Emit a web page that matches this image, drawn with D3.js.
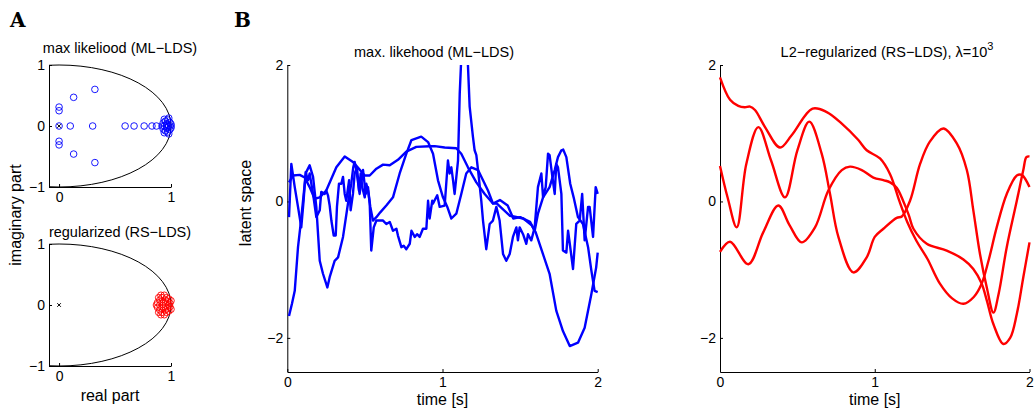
<!DOCTYPE html>
<html>
<head>
<meta charset="utf-8">
<script src="https://cdn.jsdelivr.net/npm/d3@7"></script>
<style>
  body { margin: 0; background: #fff; }
  text { font-family: "Liberation Sans", Arial, sans-serif; fill: #000; }
  .panel_letter { font-family: "DejaVu Serif", "Liberation Serif", serif; font-weight: bold; font-size: 20px; }
</style>
</head>
<body>
<div id="chart"></div>
<script>
// eigenvalues, max likelihood (real / imaginary parts)
const mlEigRe = [0, 0, 0, 0, 0, 0.10, 0.30, 0.13, 0.13, 0.32, 0.32, 0.59, 0.67, 0.76, 0.83, 0.87,
  0.92, 0.94, 0.96, 0.98, 1.0, 0.93, 0.93, 0.95, 0.95, 0.97, 0.97, 0.99, 0.99, 0.96, 0.96, 0.98, 0.98, 0.94, 0.94, 1.0, 1.0];
const mlEigIm = [0, 0.31, 0.25, -0.25, -0.31, 0, 0, 0.47, -0.46, 0.60, -0.60, 0, 0, 0, 0, 0,
  0, 0, 0, 0, 0, 0.05, -0.05, 0.08, -0.08, 0.10, -0.10, 0.06, -0.06, 0.03, -0.03, 0.13, -0.13, 0.11, -0.11, 0.03, -0.03];

// eigenvalues, regularized
const rsEigRe = [0.87, 0.88, 0.88, 0.90, 0.90, 0.90, 0.92, 0.92, 0.93, 0.93, 0.94, 0.94, 0.95, 0.95, 0.95,
  0.96, 0.96, 0.97, 0.97, 0.98, 0.98, 0.98, 0.99, 0.99, 1.0, 1.0, 0.91, 0.91, 0.89, 0.89];
const rsEigIm = [0, 0.04, -0.04, 0.08, -0.08, 0, 0.12, -0.12, 0.04, -0.04, 0.16, -0.16, 0.08, -0.08, 0,
  0.12, -0.12, 0.05, -0.05, 0.10, -0.10, 0, 0.03, -0.03, 0.07, -0.07, 0.16, -0.16, 0.12, -0.12];

const eigTicksX = [0, 1];
const eigTicksY = [-1, 0, 1];
const timeTicks = [0, 1, 2];
const latentTicks = [-2, 0, 2];

// latent trajectories, ML-LDS  [time s, value]
const mlTrace1 = [[0.011, 0.28], [0.037, 0.38], [0.08, 0.39], [0.112, 0.35], [0.144, 0.21], [0.176, 0.04], [0.209, 0.06],
  [0.251, 0.16], [0.316, 0.50], [0.37, 0.66], [0.423, 0.58], [0.499, 0.38], [0.531, 0.38], [0.574, 0.48], [0.617, 0.54],
  [0.66, 0.53], [0.713, 0.61], [0.767, 0.73], [0.831, 0.80], [0.917, 0.81], [0.95, 0.81], [1.014, 0.79], [1.089, 0.78],
  [1.121, 0.70], [1.164, 0.50], [1.218, 0.28], [1.272, 0.11], [1.325, -0.03], [1.349, -0.03], [1.435, -0.21],
  [1.521, -0.25], [1.575, -0.35], [1.60, -0.45], [1.647, -0.77], [1.69, -1.06], [1.733, -1.60], [1.776, -1.90],
  [1.82, -2.12], [1.873, -2.07], [1.916, -1.85], [1.959, -1.36], [1.99, -0.97], [2.0, -0.75]];

const mlTrace2 = [[0.011, -1.68], [0.03, -1.50], [0.048, -1.31], [0.069, -0.67], [0.09, -0.25], [0.112, 0.25], [0.122, 0.43],
  [0.144, 0.53], [0.166, 0.36], [0.187, -0.08], [0.209, -0.87], [0.23, -1.06], [0.258, -1.26], [0.273, -1.11],
  [0.305, -0.87], [0.327, -0.82], [0.359, -0.52], [0.391, -0.03], [0.412, 0.26], [0.425, 0.50], [0.434, 0.58],
  [0.445, 0.46], [0.466, 0.11], [0.488, 0.46], [0.505, 0.11], [0.52, 0.21], [0.531, -0.03], [0.541, -0.72],
  [0.557, -0.38], [0.574, -0.28], [0.584, -0.28], [0.617, -0.28], [0.638, -0.33], [0.66, -0.30], [0.681, -0.43],
  [0.703, -0.40], [0.713, -0.50], [0.735, -0.67], [0.75, -0.65], [0.767, -0.70], [0.789, -0.62], [0.80, -0.43],
  [0.821, -0.52], [0.836, -0.48], [0.853, -0.52], [0.874, -0.40], [0.896, -0.40], [0.907, 0.01], [0.917, -0.25],
  [0.934, 0.01], [0.939, -0.03], [0.966, 0.09], [0.982, -0.08], [1.014, -0.06], [1.035, 0.60], [1.046, 0.41],
  [1.057, 0.50], [1.068, 0.31], [1.078, 0.11], [1.10, 0.60], [1.111, 1.58], [1.142, 3.2], [1.175, 1.39],
  [1.196, 0.95], [1.207, 0.75], [1.218, 0.68], [1.229, 0.46], [1.25, 0.01], [1.261, -0.28], [1.282, -0.70],
  [1.304, -0.33], [1.325, -0.28], [1.347, -0.08], [1.368, -0.28], [1.39, -0.77], [1.411, -0.87], [1.433, -0.77],
  [1.454, -0.52], [1.476, -0.38], [1.486, -0.57], [1.497, -0.38], [1.519, -0.48], [1.54, -0.62], [1.551, -0.48],
  [1.572, -0.57], [1.594, -0.38], [1.615, 0.21], [1.637, 0.41], [1.648, 0.06], [1.665, 0.21], [1.68, 0.70],
  [1.69, 0.68], [1.708, 0.36], [1.723, 0.11], [1.733, 0.55], [1.744, 0.50], [1.766, 0.11], [1.776, -0.72],
  [1.798, -0.75], [1.809, -0.43], [1.823, -0.67], [1.841, -0.99], [1.851, -0.67], [1.862, -0.33], [1.884, -0.28],
  [1.90, 0.11], [1.916, -0.57], [1.938, -0.08], [1.948, -0.08], [1.97, -0.52], [1.987, 0.21], [2.0, 0.11]];

const mlTrace3 = [[0.011, -0.23], [0.026, 0.55], [0.048, 0.21], [0.069, -0.08], [0.09, -0.38], [0.105, 0.01], [0.118, 0.43],
  [0.133, 0.31], [0.144, 0.41], [0.166, 0.11], [0.187, -0.23], [0.209, -0.13], [0.219, 0.14], [0.241, 0.11],
  [0.251, 0.16], [0.262, 0.09], [0.273, -0.06], [0.284, -0.28], [0.299, -0.50], [0.312, -0.50], [0.32, -0.08],
  [0.333, 0.26], [0.348, 0.26], [0.359, 0.36], [0.37, 0.11], [0.38, 0.01], [0.398, 0.31], [0.408, -0.13],
  [0.423, 0.11], [0.434, 0.41], [0.449, 0.50], [0.462, 0.16], [0.473, 0.41], [0.483, 0.21], [0.499, 0.06],
  [0.509, 0.26], [0.52, 0.16], [0.535, -0.08], [0.552, -0.28], [0.574, -0.23], [0.599, -0.16], [0.638, -0.06],
  [0.681, 0.06], [0.724, 0.41], [0.767, 0.70], [0.80, 0.90], [0.863, 0.95], [0.907, 0.87], [0.939, 0.70],
  [0.971, 0.31], [1.003, 0.06], [1.031, -0.08], [1.057, -0.25], [1.089, -0.18], [1.121, 0.11], [1.153, 0.41],
  [1.186, 0.50], [1.229, 0.46], [1.261, 0.31], [1.293, 0.16], [1.325, -0.03], [1.37, 0.02], [1.42, -0.06],
  [1.456, -0.25], [1.50, -0.23], [1.564, -0.30], [1.594, -0.43], [1.615, -0.18], [1.648, 0.06], [1.69, 0.21],
  [1.723, 0.46], [1.744, 0.65], [1.766, 0.75], [1.778, 0.76], [1.798, 0.65], [1.823, 0.26], [1.845, 0.06],
  [1.873, -0.23], [1.905, -0.33], [1.938, -0.67], [1.959, -1.01], [1.98, -1.31], [2.0, -1.33]];

// latent trajectories, RS-LDS
const rsTrace1 = [[0, 1.82], [0.065, 1.49], [0.118, 1.40], [0.16, 1.38], [0.194, 1.39], [0.226, 1.34], [0.291, 1.09],
  [0.388, 0.79], [0.463, 0.97], [0.598, 1.36], [0.69, 1.31], [0.787, 1.14], [0.894, 0.90], [0.948, 0.75],
  [1.034, 0.63], [1.099, 0.40], [1.16, 0.0], [1.21, -0.30], [1.27, -0.58], [1.34, -0.84], [1.42, -1.20],
  [1.50, -1.42], [1.573, -1.50], [1.64, -1.40], [1.69, -1.21], [1.735, -0.87], [1.788, -0.38], [1.853, 0.11],
  [1.918, 0.38], [1.95, 0.39], [2.0, 0.21]];

const rsTrace2 = [[0, 0.52], [0.05, 0.05], [0.108, -0.38], [0.17, 0.55], [0.248, 1.09], [0.33, 0.60], [0.42, 0.06],
  [0.50, 0.75], [0.577, 1.17], [0.657, 0.70], [0.711, 0.11], [0.765, -0.52], [0.862, -1.04], [0.948, -0.82],
  [1.0, -0.52], [1.056, -0.40], [1.142, -0.24], [1.175, -0.22], [1.228, 0.01], [1.293, 0.55], [1.357, 0.88],
  [1.444, 1.07], [1.53, 0.85], [1.595, 0.46], [1.637, -0.13], [1.68, -0.77], [1.724, -1.26], [1.767, -1.63],
  [1.80, -1.36], [1.853, -0.67], [1.918, 0.01], [1.96, 0.46], [1.98, 0.65], [2.0, 0.66]];

const rsTrace3 = [[0, -0.74], [0.065, -0.59], [0.183, -0.92], [0.28, -0.45], [0.377, -0.06], [0.45, -0.35], [0.528, -0.60],
  [0.614, -0.38], [0.70, 0.16], [0.787, 0.46], [0.84, 0.51], [0.916, 0.46], [0.991, 0.35], [1.06, 0.31],
  [1.099, 0.28], [1.142, 0.20], [1.185, 0.0], [1.22, -0.20], [1.25, -0.40], [1.336, -0.62], [1.465, -0.72],
  [1.573, -0.85], [1.637, -0.99], [1.69, -1.20], [1.724, -1.45], [1.767, -1.80], [1.831, -2.09], [1.875, -2.0],
  [1.918, -1.65], [1.96, -1.11], [2.0, -0.60]];

const W = 1034, H = 414;
const svg = d3.select('#chart').append('svg')
  .attr('width', W).attr('height', H);
svg.append('rect').attr('width', W).attr('height', H).attr('fill', '#fff');

// integer tick labels with a real minus sign
const tickFmt = d => (d < 0 ? '\u2212' : '') + Math.abs(d);

// matlab-ish axes: left + bottom only, ticks pointing in
function drawAxes(x, y, xticks, yticks) {
  let gx = svg.append('g')
    .attr('transform', 'translate(0,' + y.range()[0] + ')')
    .call(d3.axisBottom(x).tickValues(xticks).tickFormat(tickFmt)
      .tickSizeInner(-3).tickSizeOuter(0).tickPadding(5));
  let gy = svg.append('g')
    .attr('transform', 'translate(' + x.range()[0] + ',0)')
    .call(d3.axisLeft(y).tickValues(yticks).tickFormat(tickFmt)
      .tickSizeInner(-3).tickSizeOuter(0).tickPadding(4));
  [gx, gy].forEach(g => {
    g.attr('font-family', null).attr('font-size', null);
    g.selectAll('text').style('font-size', '14px');
    g.selectAll('path, line').attr('stroke', '#000').attr('stroke-width', 1);
  });
}

function addTitle(x, y, str) {
  return svg.append('text').attr('x', x).attr('y', y)
    .attr('text-anchor', 'middle').style('font-size', '14.5px').text(str);
}

// ---------- panel A: eigenvalue plots ----------
function drawEigPanel(id, top, re, im, color, title, titleY) {
  let x = d3.scaleLinear().domain([-0.09, 1]).range([49, 171]);
  let y = d3.scaleLinear().domain([-1, 1]).range([top + 122, top]);

  svg.append('clipPath').attr('id', id)
    .append('rect').attr('x', 49).attr('y', top - 2).attr('width', 126).attr('height', 126);

  // unit circle
  svg.append('ellipse')
    .attr('cx', x(0)).attr('cy', y(0))
    .attr('rx', x(1) - x(0)).attr('ry', y(0) - y(1))
    .attr('fill', 'none').attr('stroke', '#000').attr('stroke-width', 1)
    .attr('clip-path', 'url(#' + id + ')');

  drawAxes(x, y, eigTicksX, eigTicksY);

  svg.append('g').selectAll('circle')
    .data(d3.range(re.length))
    .enter().append('circle')
    .attr('cx', i => x(re[i]))
    .attr('cy', i => y(im[i]))
    .attr('r', 3.3)
    .attr('fill', 'none')
    .attr('stroke', color)
    .attr('stroke-width', 0.9);

  // origin marker
  let cx = x(0), cy = y(0);
  svg.append('path')
    .attr('d', `M${cx - 1.8},${cy - 1.8}L${cx + 1.8},${cy + 1.8}M${cx - 1.8},${cy + 1.8}L${cx + 1.8},${cy - 1.8}`)
    .attr('stroke', '#000').attr('stroke-width', 1);

  addTitle(120, titleY, title);
}

drawEigPanel('clipA1', 65, mlEigRe, mlEigIm, '#0000ff', 'max likeliood (ML\u2212LDS)', 53);
drawEigPanel('clipA2', 244, rsEigRe, rsEigIm, '#ff0000', 'regularized (RS\u2212LDS)', 237);

svg.append('text')
  .attr('transform', 'translate(21,215) rotate(-90)')
  .attr('text-anchor', 'middle').style('font-size', '16px')
  .text('imaginary part');
svg.append('text').attr('x', 110).attr('y', 401)
  .attr('text-anchor', 'middle').style('font-size', '16px').text('real part');

// ---------- panel B: latent trajectories ----------
function drawTracePanel(id, left, right, traces, color, smooth) {
  let x = d3.scaleLinear().domain([0, 2]).range([left, right]);
  let y = d3.scaleLinear().domain([-2.5, 2]).range([372, 65]);

  svg.append('clipPath').attr('id', id)
    .append('rect').attr('x', left - 2).attr('y', 65).attr('width', right - left + 4).attr('height', 307);

  drawAxes(x, y, timeTicks, latentTicks);

  let line = d3.line()
    .x(d => x(d[0]))
    .y(d => y(d[1]))
    .curve(smooth ? d3.curveCatmullRom.alpha(0.5) : d3.curveLinear);

  svg.append('g').attr('clip-path', 'url(#' + id + ')')
    .selectAll('path')
    .data(traces)
    .enter().append('path')
    .attr('d', line)
    .attr('fill', 'none')
    .attr('stroke', color)
    .attr('stroke-width', 2.4)
    .attr('stroke-linejoin', 'round');

  svg.append('text').attr('x', (left + right) / 2).attr('y', 405)
    .attr('text-anchor', 'middle').style('font-size', '16px').text('time [s]');
  return x;
}

drawTracePanel('clipB1', 287.3, 597.7, [mlTrace1, mlTrace2, mlTrace3], '#0000ff', false);
drawTracePanel('clipB2', 720, 1029.5, [rsTrace1, rsTrace2, rsTrace3], '#ff0000', true);

addTitle(434, 57, 'max. likehood (ML\u2212LDS)');
let t2 = addTitle(887, 57, 'L2\u2212regularized (RS\u2212LDS), \u03bb=10');
t2.append('tspan').attr('dy', -7).style('font-size', '11px').text('3');

svg.append('text')
  .attr('transform', 'translate(251,203) rotate(-90)')
  .attr('text-anchor', 'middle').style('font-size', '16px')
  .text('latent space');

// panel letters
svg.append('text').attr('class', 'panel_letter').attr('x', 10).attr('y', 27).text('A');
svg.append('text').attr('class', 'panel_letter').attr('x', 234).attr('y', 27).text('B');
</script>
</body>
</html>
